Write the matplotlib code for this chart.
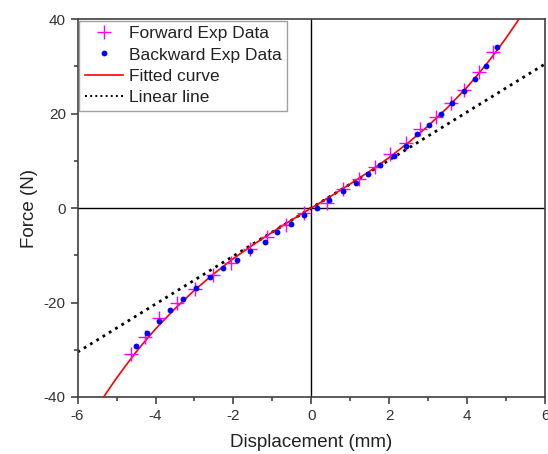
import matplotlib
matplotlib.use("Agg")
import matplotlib.pyplot as plt
from matplotlib.ticker import MultipleLocator

plt.rcParams['font.family'] = ['Liberation Sans', 'DejaVu Sans']
plt.rcParams['axes.unicode_minus'] = False

fwd_x = [-4.64, -4.27, -3.91, -3.46, -2.99, -2.53, -2.07, -1.57, -1.13, -0.65, -0.20,
         0.40, 0.81, 1.23, 1.64, 2.02, 2.43, 2.79, 3.19, 3.59, 3.92, 4.31, 4.66]
fwd_y = [-30.8, -27.2, -23.3, -20.0, -17.1, -14.2, -11.7, -8.7, -6.1, -3.6, -1.0,
         1.1, 4.0, 6.1, 8.6, 11.4, 13.8, 16.7, 19.3, 22.3, 25.0, 28.8, 33.0]
bwd_x = [-4.50, -4.21, -3.92, -3.63, -3.29, -2.96, -2.60, -2.26, -1.92, -1.57, -1.19,
         -0.87, -0.53, -0.19, 0.14, 0.46, 0.81, 1.14, 1.46, 1.76, 2.11, 2.43, 2.72,
         3.03, 3.32, 3.62, 3.92, 4.20, 4.49, 4.76]
bwd_y = [-29.2, -26.5, -23.9, -21.6, -19.3, -17.0, -14.7, -12.8, -10.9, -9.0, -7.1,
         -5.0, -3.4, -1.5, 0.1, 1.8, 3.6, 5.2, 7.2, 9.1, 11.0, 13.1, 15.6,
         17.6, 19.8, 22.3, 24.8, 27.4, 30.1, 34.1]

# fitted curve
fit_x = [-5.5, -5.25, -5.0, -4.75, -4.5, -4.25, -4.0, -3.5, -3.0, -2.5, -2.0, -1.5, -1.0, -0.5, 0.0,
         0.5, 1.0, 1.5, 2.0, 2.5, 3.0, 3.5, 4.0, 4.25, 4.5, 4.75, 5.0, 5.25, 5.5]
fit_y = [-42.1, -39.0, -36.0, -33.2, -30.5, -28.0, -25.6, -21.3, -17.4, -13.9, -10.7, -7.8, -5.1, -2.5, 0.0,
         2.5, 5.1, 7.8, 10.7, 13.9, 17.4, 21.3, 25.6, 28.0, 30.5, 33.2, 36.0, 39.0, 42.1]

lin_x = [-6, 6]
lin_y = [-30.5, 30.5]

fig = plt.figure(figsize=(5.48, 4.54), dpi=100)
ax = fig.add_axes([0.1416, 0.1256, 0.853, 0.8324])

ax.axhline(0, color="black", lw=1, zorder=1)
ax.axvline(0, color="black", lw=1, zorder=1)

ax.plot(fwd_x, fwd_y, "+", color="#ff00ff", ms=10.5, mew=1.0, label="Forward Exp Data", zorder=4)
ax.plot(bwd_x, bwd_y, "o", color="#0000ff", ms=4.2, mew=0, label="Backward Exp Data", zorder=5)
ax.plot(fit_x, fit_y, "-", color="#ff0000", lw=1.2, label="Fitted curve", zorder=3)
ax.plot(lin_x, lin_y, ":", color="black", lw=2, label="Linear line", zorder=2)

ax.set_xlim(-6, 6)
ax.set_ylim(-40, 40)
ax.xaxis.set_major_locator(MultipleLocator(2))
ax.xaxis.set_minor_locator(MultipleLocator(1))
ax.yaxis.set_major_locator(MultipleLocator(20))
ax.yaxis.set_minor_locator(MultipleLocator(10))
ax.tick_params(which="both", direction="out", labelsize=11, colors="#333333", width=1.1)
ax.tick_params(which="major", length=5)
ax.tick_params(which="minor", length=3)
for s in ax.spines.values():
    s.set_color("#404040")
    s.set_linewidth(1.2)

ax.set_xlabel("Displacement (mm)", fontsize=13.5, color="#222222", labelpad=8)
ax.set_ylabel("Force (N)", fontsize=13.5, color="#222222", labelpad=4)

leg = ax.legend(loc="upper left", bbox_to_anchor=(0.0, 1.0), borderaxespad=0.1,
                fontsize=12.5, frameon=True, fancybox=False, handlelength=2.2,
                handletextpad=0.35, borderpad=0.3, labelspacing=0.36)
leg.get_frame().set_edgecolor("#888888")
leg.get_frame().set_linewidth(1.0)
leg.get_lines()[3].set_linewidth(1.4)
for t in leg.get_texts():
    t.set_color("#222222")

fig.savefig("out.png", dpi=100)
